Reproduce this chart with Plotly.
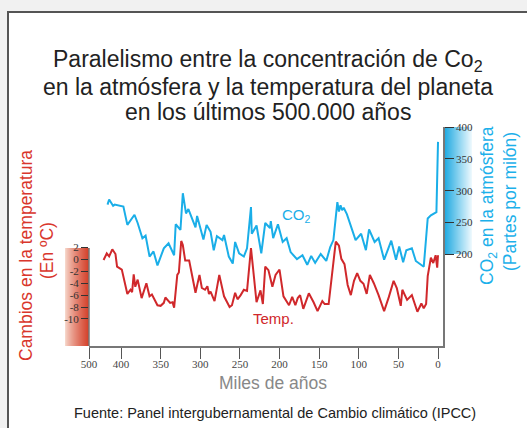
import plotly.graph_objects as go

# ---------------- data ----------------
# CO2 (ppm) vs thousands of years before present
co2_kyr = [417, 415, 410, 408, 397, 392, 383, 379, 373, 369, 364, 359, 354, 346, 340,
           333, 331, 325, 322, 318, 315, 306, 304, 296, 292, 287, 283, 279, 272, 270,
           264, 259, 256, 251, 245, 241, 236, 235, 229, 223, 218, 212, 211, 208, 202,
           196, 191, 186, 178, 171, 165, 160, 155, 148, 141, 136, 132, 129, 127, 125,
           123, 121, 119, 115, 104, 97, 91, 87, 80, 75, 68, 59, 53, 49, 44,
           40, 33, 28, 18, 13, 9, 2, 0]
co2_ppm = [278, 286, 276, 278, 275, 246, 262, 249, 225, 229, 196, 204, 182, 209, 217,
           198, 247, 238, 296, 264, 271, 242, 260, 223, 246, 235, 206, 228, 222, 230,
           196, 185, 219, 201, 196, 209, 274, 232, 245, 201, 249, 241, 252, 225, 247,
           219, 225, 203, 192, 198, 183, 197, 186, 200, 189, 211, 222, 262, 282, 267,
           277, 269, 273, 263, 222, 232, 206, 239, 219, 225, 191, 221, 191, 212, 187,
           206, 209, 189, 180, 256, 261, 266, 377]

# Temperature change (ºC) vs thousands of years before present
temp_kyr = [422, 418, 415, 411, 407, 405, 399, 392, 388, 386, 384, 382, 379, 374, 368,
            364, 361, 356, 354, 350, 346, 344, 341, 338, 335, 333, 329, 327, 324, 322,
            319, 314, 306, 301, 298, 294, 291, 289, 287, 282, 276, 270, 263, 260, 256,
            253, 249, 245, 241, 236, 229, 224, 221, 218, 214, 209, 205, 200, 195, 188,
            184, 180, 177, 174, 170, 163, 157, 152, 146, 143, 138, 134, 129, 125, 122,
            118, 114, 110, 106, 102, 98, 94, 90, 86, 81, 75, 68, 62, 56, 52,
            47, 45, 39, 33, 26, 21, 18, 15, 13, 9, 6, 3, 1, 0]
temp_c = [-0.1, 1.0, 0.5, 1.7, 0.9, -1.2, -1.7, -5.8, -5.1, -5.5, -2.5, -4.6, -3.4, -6.5, -4.0,
          -6.2, -5.9, -7.2, -7.7, -7.8, -7.3, -6.4, -6.8, -7.3, -7.2, -8.1, -2.6, -2.2, 3.1, 2.4,
          -0.2, -0.2, -5.6, -2.6, -4.8, -5.1, -4.5, -5.8, -5.4, -7.0, -2.6, -6.2, -8.0, -7.7, -5.6,
          -6.7, -6.0, -5.1, -5.3, 1.9, -7.2, -5.2, -7.5, -1.2, -1.8, -4.6, -2.6, -1.7, -6.2, -7.7,
          -6.3, -7.7, -6.5, -6.0, -8.3, -5.7, -7.2, -8.7, -7.0, -7.5, -7.5, -3.0, 3.0, 2.3, 0.1,
          -0.8, -4.3, -6.0, -3.6, -2.3, -3.6, -4.1, -5.8, -2.6, -4.0, -6.0, -8.7, -6.3, -3.6, -4.8,
          -7.8, -5.1, -6.8, -6.0, -8.8, -7.4, -8.2, -7.5, -2.8, 0.3, -0.6, 0.7, -1.4, 0.7]

x_tick_vals = [440.4, 400, 350, 300, 250, 200, 150, 100, 50, 0]
x_tick_text = ["500", "400", "350", "300", "250", "200", "150", "100", "50", "0"]
t_tick_vals = [2, 0, -2, -4, -6, -8, -10]
t_tick_text = ["2", "0", "-2", "-4", "-6", "-8", "-10"]
c_tick_vals = [200, 250, 300, 350, 400]

# ---------------- layout helpers (pixel -> paper) ----------------
W, H = 527, 428
L, R, T, B = 89, 443, 127, 346


def px(x):
    return (x - L) / (R - L)


def py(y):
    return (B - y) / (B - T)


SANS = "Liberation Sans, Arial, sans-serif"
SERIF = "Liberation Serif, Times New Roman, serif"
BLUE = "#1aaee8"
RED = "#d0282b"

fig = go.Figure()
fig.add_trace(go.Scatter(x=co2_kyr, y=co2_ppm, mode="lines", yaxis="y2",
                         line=dict(color=BLUE, width=2), hoverinfo="skip"))
fig.add_trace(go.Scatter(x=temp_kyr, y=temp_c, mode="lines", yaxis="y",
                         line=dict(color=RED, width=2), hoverinfo="skip"))

shapes = []
# white framed card
shapes.append(dict(type="rect", xref="paper", yref="paper", layer="below",
                   x0=px(8), x1=px(545), y0=py(445), y1=py(12),
                   fillcolor="white", line=dict(color="#555555", width=2)))


def lerp(c1, c2, t):
    return "rgb(%d,%d,%d)" % tuple(round(a + (b - a) * t) for a, b in zip(c1, c2))


# red gradient bar (temperature scale)
n = 24
for i in range(n):
    shapes.append(dict(type="rect", xref="paper", yref="paper", layer="below",
                       x0=px(65 + i), x1=px(66 + i), y0=py(346), y1=py(248),
                       fillcolor=lerp((246, 214, 202), (212, 64, 42), (i / (n - 1)) ** 0.8),
                       line=dict(width=0)))
# blue gradient bar (CO2 scale)
n = 29
for i in range(n):
    shapes.append(dict(type="rect", xref="paper", yref="paper", layer="below",
                       x0=px(443 + i), x1=px(444 + i), y0=py(254), y1=py(127),
                       fillcolor=lerp((22, 166, 224), (236, 248, 253), i / (n - 1)),
                       line=dict(width=0)))
# temperature axis line
shapes.append(dict(type="line", xref="paper", yref="paper", layer="above",
                   x0=0, x1=0, y0=0, y1=py(248), line=dict(color="#777777", width=1.5)))

ann = []


def text(x, y, s, size, color, angle=0, family=SANS):
    ann.append(dict(x=px(x), y=py(y), xref="paper", yref="paper", text=s,
                    showarrow=False, xanchor="center", yanchor="middle",
                    textangle=angle, font=dict(family=family, size=size, color=color)))


text(268, 61, "Paralelismo entre la concentración de Co<sub>2</sub>", 23, "#222222")
text(268, 87, "en la atmósfera y la temperatura del planeta", 23, "#222222")
text(268, 112, "en los últimos 500.000 años", 23, "#222222")
text(26, 256, "Cambios en la temperatura", 17.5, "#d9362c", -90)
text(47, 251, "(En ºC)", 17.5, "#d9362c", -90)
text(488, 206, "CO<sub>2</sub> en la atmósfera", 17.5, "#1cb0ea", -90)
text(510, 202, "(Partes por milón)", 17.5, "#1cb0ea", -90)
text(296, 215, "CO<sub>2</sub>", 15, BLUE)
text(273, 318, "Temp.", 15, RED)
text(273, 383, "Miles de años", 17.5, "#888888")
text(275, 413, "Fuente: Panel intergubernamental de Cambio climático (IPCC)", 14.5, "#222222")

fig.update_layout(
    width=W, height=H, autosize=False,
    margin=dict(l=L, r=W - R, t=T, b=H - B, pad=0, autoexpand=False),
    paper_bgcolor="#f1f1f1", plot_bgcolor="rgba(0,0,0,0)",
    showlegend=False, shapes=shapes, annotations=ann,
    xaxis=dict(range=[440.4, -6.3], tickvals=x_tick_vals, ticktext=x_tick_text,
               ticks="outside", ticklen=11, tickcolor="#555555", tickwidth=1,
               ticklabelstandoff=-4,
               showline=True, linecolor="#777777", linewidth=1.5,
               showgrid=False, zeroline=False, fixedrange=True,
               tickfont=dict(family=SERIF, size=11, color="#444444")),
    yaxis=dict(range=[-14.55, 22.25], tickvals=t_tick_vals, ticktext=t_tick_text,
               ticks="outside", ticklen=7, tickcolor="#333333", tickwidth=1,
               showline=False, showgrid=False, zeroline=False, fixedrange=True,
               tickfont=dict(family=SERIF, size=11, color="#333333")),
    yaxis2=dict(range=[54.8, 400.5], tickvals=c_tick_vals, overlaying="y", side="right",
                anchor="x", ticks="outside", ticklen=9, tickcolor="#333333", tickwidth=1,
                showline=True, linecolor="#777777", linewidth=1.5,
                showgrid=False, zeroline=False, fixedrange=True,
                tickfont=dict(family=SERIF, size=11, color="#333333")),
)

fig.write_html("out.html", config={"displayModeBar": False},
               post_script="document.body.style.margin='0';"
                           "document.body.style.background='#f1f1f1';"
                           "document.body.style.overflow='hidden';")
